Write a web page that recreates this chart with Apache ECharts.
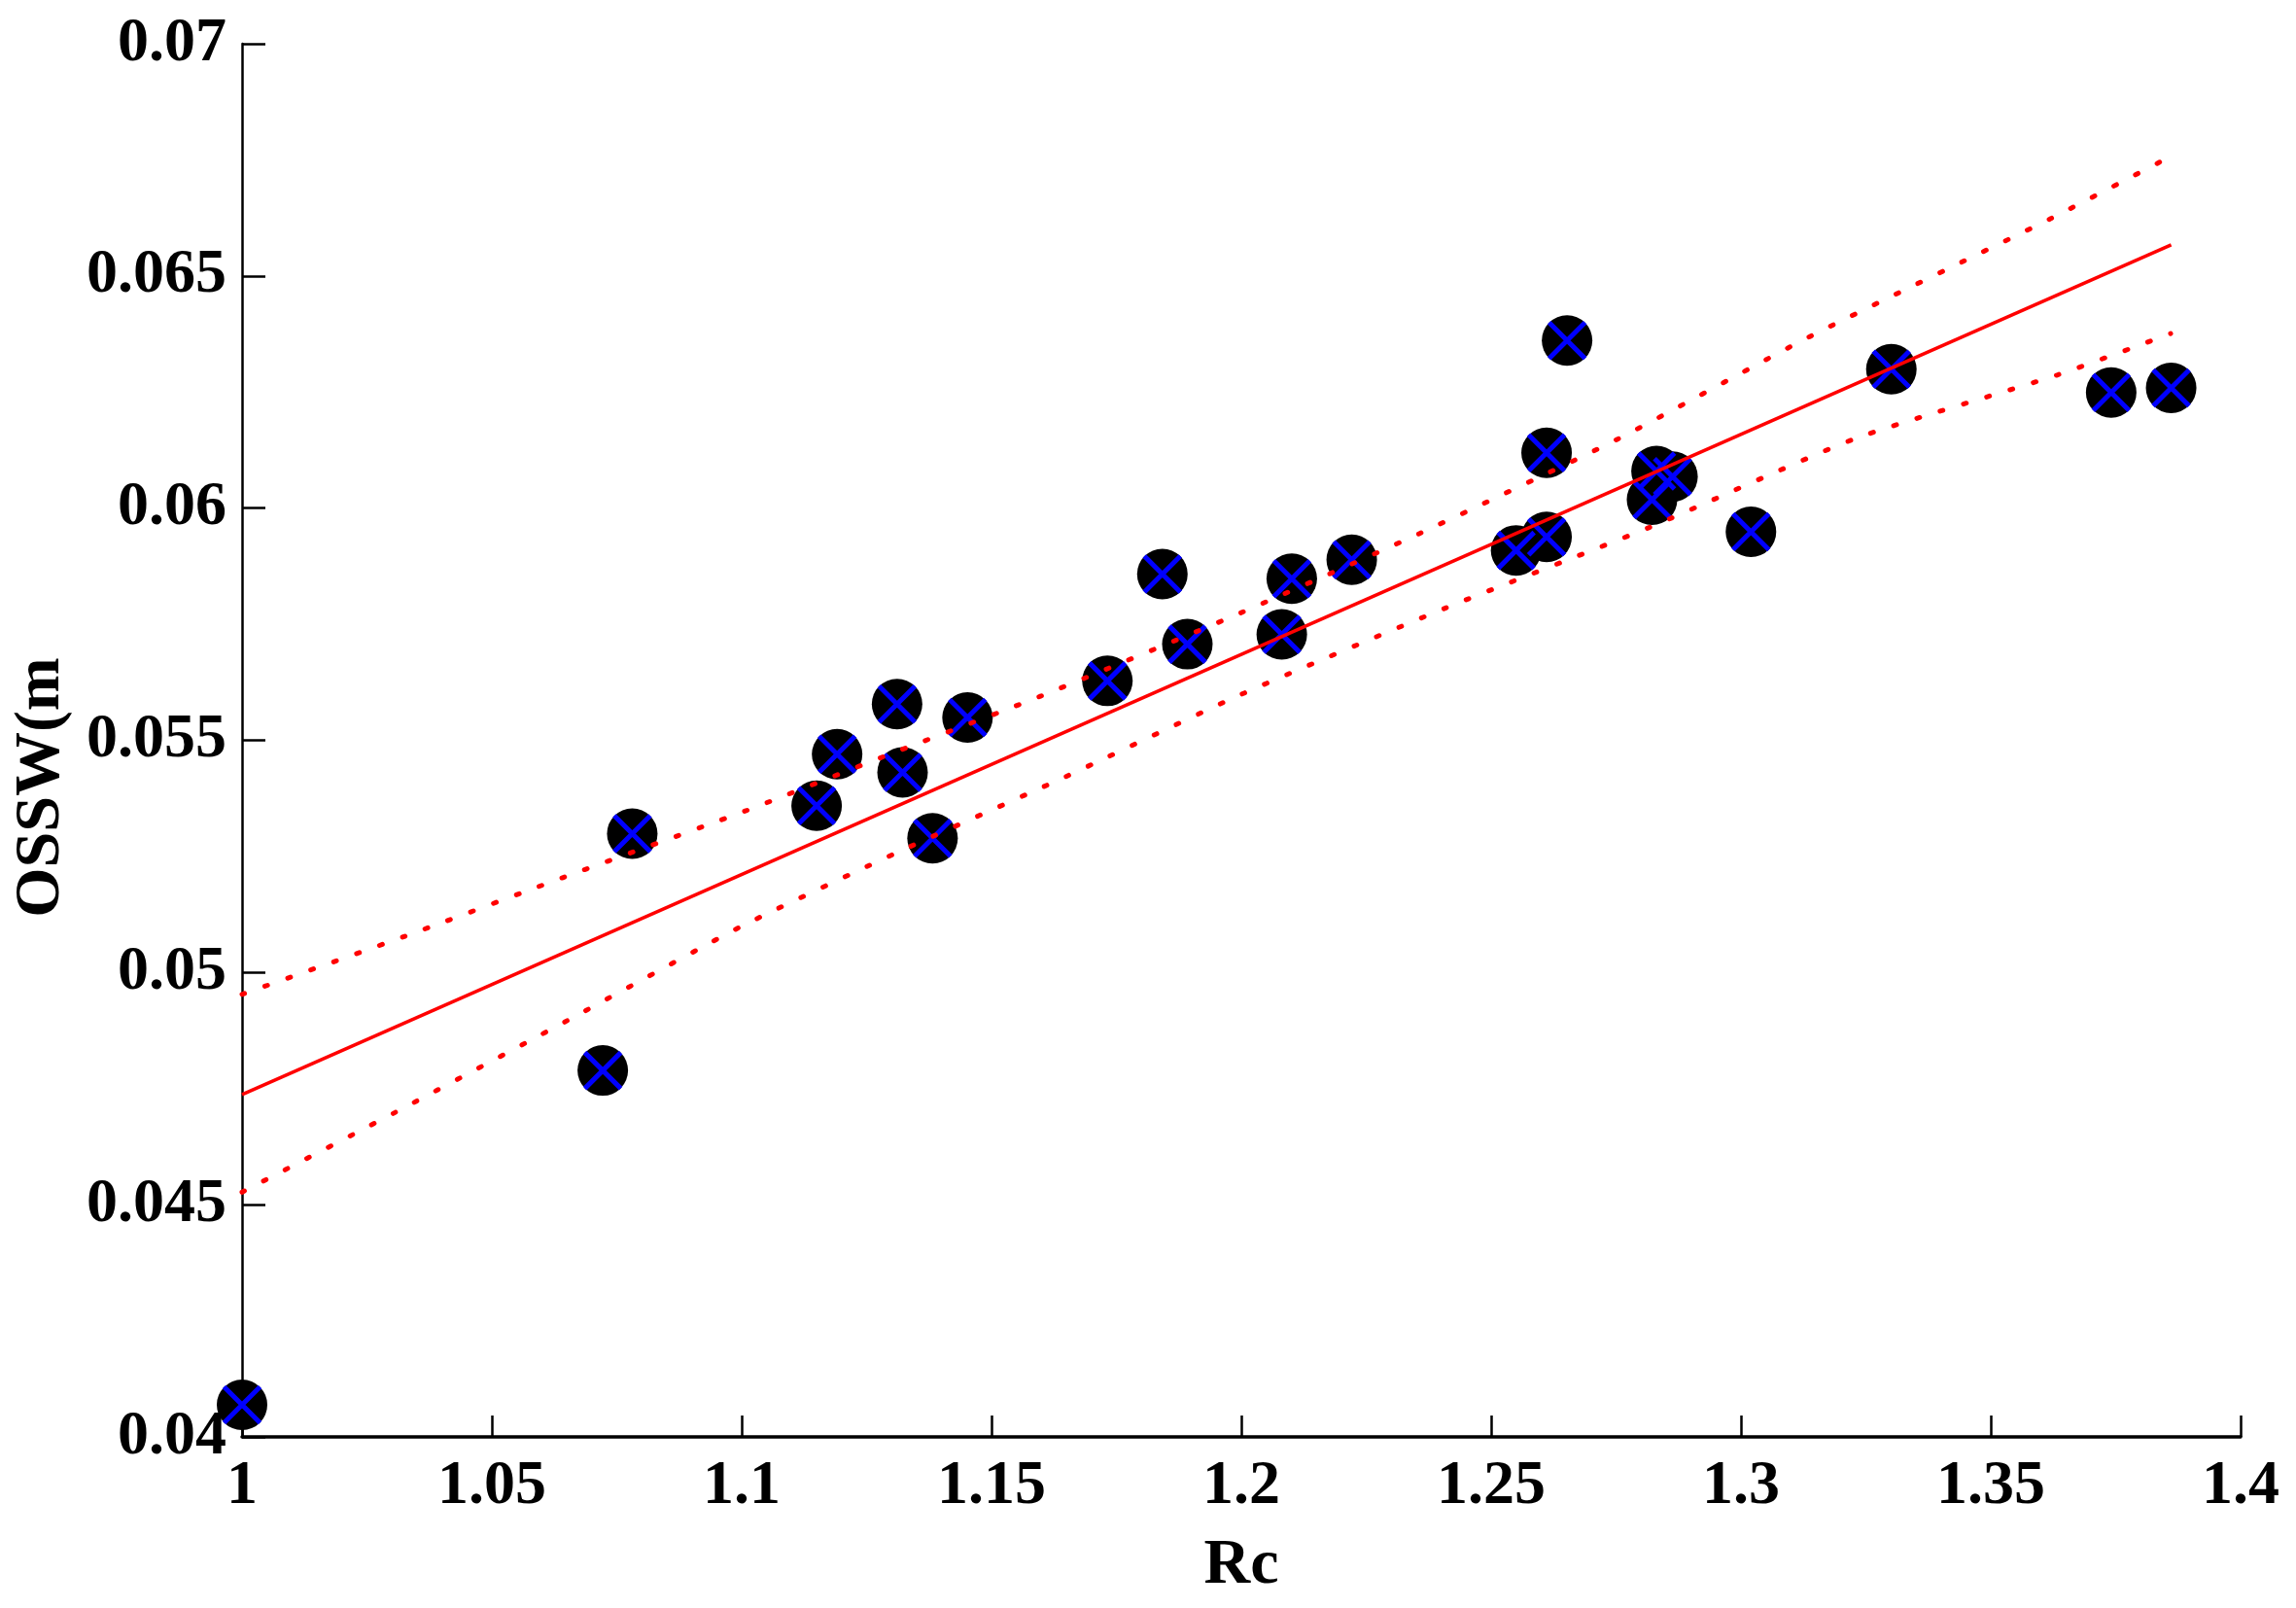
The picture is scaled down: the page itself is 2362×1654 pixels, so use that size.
<!DOCTYPE html>
<html>
<head>
<meta charset="utf-8">
<title>OSSW vs Rc</title>
<script src="https://cdn.jsdelivr.net/npm/echarts@6/dist/echarts.min.js"></script>
<style>
  html, body { margin: 0; padding: 0; background: #ffffff; }
  #chart { width: 2362px; height: 1654px; }
</style>
</head>
<body>
<div id="chart"></div>
<script>
// measured points (Rc, OSSW)
const rcValues = [1.0, 1.0722, 1.0781, 1.115, 1.1191, 1.1311, 1.1322, 1.1382, 1.1452, 1.1732,
  1.1842, 1.1892, 1.2081, 1.2101, 1.2221, 1.255, 1.2611, 1.2611, 1.2652, 1.2822,
  1.2831, 1.2863, 1.302, 1.3301, 1.3741, 1.3861];
const osswValues = [0.04069, 0.04789, 0.05299, 0.05359, 0.0547, 0.05578, 0.05431, 0.05289, 0.05549, 0.05628,
  0.05858, 0.05707, 0.05728, 0.05848, 0.05889, 0.05909, 0.05938, 0.06119, 0.06361, 0.06018,
  0.0608, 0.06068, 0.05949, 0.06299, 0.06249, 0.06259];

// fitted line and its bounds
const fitX = [1, 1.3861];
const fitY = [0.04737, 0.06567];
const upperX = [1, 1.0326, 1.0646, 1.101, 1.1284, 1.1598, 1.2, 1.2358, 1.2754, 1.3137, 1.3621, 1.3838];
const upperY = [0.04953, 0.05078, 0.05206, 0.05349, 0.05465, 0.05595, 0.05775, 0.05946, 0.06149, 0.06369, 0.06624, 0.06745];
const lowerX = [1, 1.0307, 1.0652, 1.0997, 1.1304, 1.1649, 1.2, 1.2409, 1.2818, 1.3227, 1.3634, 1.386];
const lowerY = [0.04527, 0.04699, 0.04897, 0.05098, 0.05255, 0.05422, 0.05599, 0.05785, 0.05959, 0.06149, 0.06287, 0.06376];

// axis ticks
const xTickLabels = ['1', '1.05', '1.1', '1.15', '1.2', '1.25', '1.3', '1.35', '1.4'];
const yTickLabels = ['0.04', '0.045', '0.05', '0.055', '0.06', '0.065', '0.07'];
const xMin = 1, xStep = 0.05;
const yMin = 0.04, yStep = 0.005;

const FONT = '"Liberation Serif", "Times New Roman", serif';

function zip(xs, ys) {
  return xs.map((x, i) => [x, ys[i]]);
}

const chart = echarts.init(document.getElementById('chart'), null, { renderer: 'canvas' });

const option = {
  animation: false,
  backgroundColor: '#ffffff',
  grid: { left: 249, right: 57, top: 45, bottom: 176, containLabel: false },
  xAxis: {
    type: 'value',
    min: xMin,
    max: xMin + xStep * (xTickLabels.length - 1),
    interval: xStep,
    name: 'Rc',
    nameLocation: 'middle',
    nameGap: 100,
    nameTextStyle: { fontFamily: FONT, fontWeight: 'bold', fontSize: 66, color: '#000' },
    axisLine: { show: true, lineStyle: { color: '#000', width: 3.5 } },
    axisTick: { show: true, inside: true, length: 22, lineStyle: { color: '#000', width: 2.5 } },
    axisLabel: {
      margin: 19,
      fontFamily: FONT, fontWeight: 'bold', fontSize: 64, color: '#000',
      formatter: (v) => xTickLabels[Math.round((v - xMin) / xStep)]
    },
    splitLine: { show: false }
  },
  yAxis: {
    type: 'value',
    min: yMin,
    max: yMin + yStep * (yTickLabels.length - 1),
    interval: yStep,
    axisLine: { show: true, lineStyle: { color: '#000', width: 2.5 } },
    axisTick: { show: true, inside: true, length: 24, lineStyle: { color: '#000', width: 2.5 } },
    axisLabel: {
      margin: 16,
      fontFamily: FONT, fontWeight: 'bold', fontSize: 64, color: '#000',
      formatter: (v) => yTickLabels[Math.round((v - yMin) / yStep)]
    },
    splitLine: { show: false }
  },
  graphic: [{
    type: 'text',
    x: 43,
    y: 810,
    rotation: Math.PI / 2,
    style: {
      text: 'OSSW(m',
      fill: '#000',
      font: 'bold 66px ' + FONT,
      align: 'center',
      verticalAlign: 'middle',
      textAlign: 'center',
      textVerticalAlign: 'middle'
    }
  }],
  series: [
    {
      type: 'scatter',
      data: zip(rcValues, osswValues),
      symbol: 'circle',
      symbolSize: 52,
      clip: false,
      itemStyle: { color: '#000000', opacity: 1 },
      z: 2
    },
    {
      type: 'scatter',
      data: zip(rcValues, osswValues),
      symbol: 'path://M0 0L10 10M10 0L0 10',
      symbolSize: 37,
      clip: false,
      itemStyle: { color: 'transparent', borderColor: '#0000ff', borderWidth: 5, opacity: 1 },
      z: 3
    },
    {
      type: 'line',
      data: zip(fitX, fitY),
      showSymbol: false,
      symbol: 'none',
      lineStyle: { color: '#ff0000', width: 3.5 },
      z: 4
    },
    {
      type: 'line',
      data: zip(upperX, upperY),
      showSymbol: false,
      symbol: 'none',
      smooth: 0.2,
      lineStyle: { color: '#ff0000', width: 5, type: [3, 22], cap: 'round' },
      z: 4
    },
    {
      type: 'line',
      data: zip(lowerX, lowerY),
      showSymbol: false,
      symbol: 'none',
      smooth: 0.2,
      lineStyle: { color: '#ff0000', width: 5, type: [3, 22], cap: 'round' },
      z: 4
    }
  ]
};

chart.setOption(option);
</script>
</body>
</html>
